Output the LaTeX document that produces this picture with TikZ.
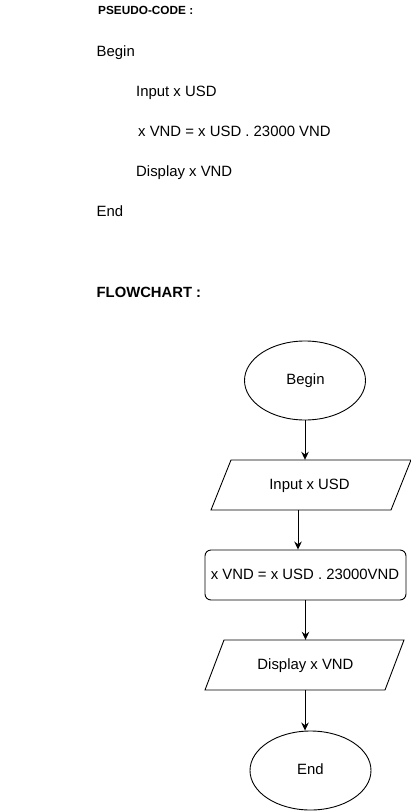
\documentclass[tikz,border=0pt]{standalone}
\usepackage{fontspec}
\setmainfont{Liberation Sans}
\usetikzlibrary{shapes.geometric,arrows.meta}
\begin{document}
\begin{tikzpicture}[x=1pt,y=-1pt,
  txt/.style={inner sep=0pt, anchor=base west, font=\fontsize{14.9}{17}\selectfont},
  hdr/.style={inner sep=0pt, anchor=base west, font=\bfseries\fontsize{14.8}{17}\selectfont},
  lbl/.style={inner sep=0pt, font=\fontsize{14.9}{17}\selectfont},
  shp/.style={line width=0.9pt},
  term/.style={shp, draw, ellipse, minimum width=121pt, minimum height=79pt, inner sep=0pt},
  para/.style={minimum width=160pt, minimum height=50pt, inner sep=0pt},
  proc/.style={shp, draw, rounded corners=6pt, minimum width=201pt, minimum height=50pt, inner sep=0pt},
  arr/.style={-{Stealth[length=8pt,width=7.5pt]}, line width=0.9pt}]
\useasboundingbox (0,0) rectangle (411,811);

% pseudo-code
\node[hdr, font=\bfseries\fontsize{11.8}{13}\selectfont] (ph) at (98,14) {PSEUDO-CODE :};
\node[txt] (p1) at (96.5,56.5) {Begin};
\node[txt] (p2) at (136,96.5) {Input x USD};
\node[txt] (p3) at (138,136.5) {x VND = x USD . 23000 VND};
\node[txt] (p4) at (136,176.5) {Display x VND};
\node[txt] (p5) at (96.5,216.5) {End};

\node[hdr] (fh) at (96.5,297) {FLOWCHART :};

% flowchart
\node[term] (begin) at (305,380.5) {};
\node[lbl] (begint) at (305.5,381.5) {Begin\strut};

\draw[shp] (231,460) -- (411,460) -- (391,510) -- (211,510) -- cycle;
\node[para] (input) at (311,485) {};
\node[lbl] (inputt) at (309.5,486.5) {Input x USD\strut};

\node[proc] (calc) at (305.5,575) {};
\node[lbl] (calct) at (305,576) {x VND = x USD . 23000VND\strut};

\draw[shp] (224,640) -- (404,640) -- (385,690) -- (205,690) -- cycle;
\node[para] (disp) at (305,665) {};
\node[lbl] (dispt) at (305.5,666.5) {Display x VND\strut};

\node[term] (end) at (310.5,770.5) {};
\node[lbl] (endt) at (310.5,771.5) {End\strut};

\draw[arr] (begin.south) -- (begin.south |- input.north);
\draw[arr] ([xshift=-13pt]input.south) -- ([xshift=-13pt]input.south |- calc.north);
\draw[arr] (calc.south) -- (calc.south |- disp.north);
\draw[arr] (disp.south) -- (disp.south |- end.north);
\end{tikzpicture}
\end{document}
